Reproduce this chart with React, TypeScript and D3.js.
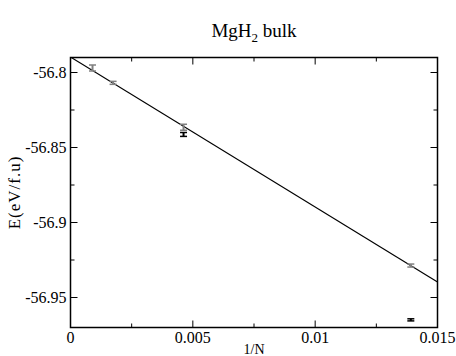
import React, { useEffect, useRef } from 'react';
import * as d3 from 'd3';

// gray series (with error bars)
const grayX = [0.0009, 0.00174, 0.00462, 0.01391];
const grayE = [-56.797, -56.8069, -56.8365, -56.9287];
const grayErr = [0.002, 0.001, 0.002, 0.001];

// black series
const blackX = [0.00462, 0.01391];
const blackE = [-56.8413, -56.9649];
const blackErr = [0.0013, 0.0007];

// linear fit E = a + b * (1/N)
const fitX = [0, 0.015];
const fitA = -56.7897;
const fitB = -10.0;

const xTicks = [0, 0.005, 0.01, 0.015];
const xTickLabels = ['0', '0.005', '0.01', '0.015'];
const xMinor = [0.0025, 0.0075, 0.0125];
const yTicks = [-56.8, -56.85, -56.9, -56.95];
const yTickLabels = ['-56.8', '-56.85', '-56.9', '-56.95'];
const yMinor = [-56.825, -56.875, -56.925];

const App = () => {
  const ref = useRef(null);

  useEffect(() => {
    d3.select(ref.current).selectAll('*').remove();
    const width = 456, height = 356;
    const margin = { top: 57.5, right: 18.5, bottom: 28.5, left: 70.5 };
    const innerW = width - margin.left - margin.right;
    const innerH = height - margin.top - margin.bottom;
    const font = 'Liberation Serif, Times New Roman, serif';

    const svg = d3.select(ref.current)
      .append('svg')
      .attr('width', width)
      .attr('height', height)
      .attr('font-family', font)
      .style('display', 'block')
      .style('background', '#fff');

    const g = svg.append('g').attr('transform', `translate(${margin.left},${margin.top})`);

    const x = d3.scaleLinear().domain([0, 0.015]).range([0, innerW]);
    const y = d3.scaleLinear().domain([-56.97, -56.79]).range([innerH, 0]);

    const clip = svg.append('clipPath').attr('id', 'plotclip');
    clip.append('rect').attr('width', innerW).attr('height', innerH);

    // fit line
    const line = d3.line<number>().x(d => x(d)).y(d => y(fitA + fitB * d));
    g.append('path')
      .attr('clip-path', 'url(#plotclip)')
      .attr('d', line(fitX))
      .attr('fill', 'none')
      .attr('stroke', '#000')
      .attr('stroke-width', 1.2);

    const drawErr = (xs, es, errs, color) => {
      xs.forEach((xv, i) => {
        const cx = x(xv);
        const y0 = y(es[i] - errs[i]);
        const y1 = y(es[i] + errs[i]);
        const eg = g.append('g').attr('stroke', color).attr('stroke-width', 2);
        eg.append('line').attr('x1', cx).attr('x2', cx).attr('y1', y0).attr('y2', y1);
        eg.append('line').attr('x1', cx - 3.5).attr('x2', cx + 3.5).attr('y1', y0).attr('y2', y0).attr('stroke-width', 1.5);
        eg.append('line').attr('x1', cx - 3.5).attr('x2', cx + 3.5).attr('y1', y1).attr('y2', y1).attr('stroke-width', 1.5);
      });
    };
    drawErr(grayX, grayE, grayErr, '#808080');
    drawErr(blackX, blackE, blackErr, '#000');

    // frame
    g.append('rect')
      .attr('width', innerW)
      .attr('height', innerH)
      .attr('fill', 'none')
      .attr('stroke', '#000')
      .attr('stroke-width', 1.5);

    // ticks, inward on all sides
    const ticks = g.append('g').attr('stroke', '#000').attr('stroke-width', 1);
    const major = 7, minor = 4;
    xTicks.forEach(t => {
      ticks.append('line').attr('x1', x(t)).attr('x2', x(t)).attr('y1', innerH).attr('y2', innerH - major);
      ticks.append('line').attr('x1', x(t)).attr('x2', x(t)).attr('y1', 0).attr('y2', major);
    });
    xMinor.forEach(t => {
      ticks.append('line').attr('x1', x(t)).attr('x2', x(t)).attr('y1', innerH).attr('y2', innerH - minor);
      ticks.append('line').attr('x1', x(t)).attr('x2', x(t)).attr('y1', 0).attr('y2', minor);
    });
    yTicks.forEach(t => {
      ticks.append('line').attr('x1', 0).attr('x2', major).attr('y1', y(t)).attr('y2', y(t));
      ticks.append('line').attr('x1', innerW).attr('x2', innerW - major).attr('y1', y(t)).attr('y2', y(t));
    });
    yMinor.forEach(t => {
      ticks.append('line').attr('x1', 0).attr('x2', minor).attr('y1', y(t)).attr('y2', y(t));
      ticks.append('line').attr('x1', innerW).attr('x2', innerW - minor).attr('y1', y(t)).attr('y2', y(t));
    });

    // tick labels
    xTicks.forEach((t, i) => {
      g.append('text')
        .attr('x', x(t))
        .attr('y', innerH + 15)
        .attr('text-anchor', 'middle')
        .attr('font-size', 16)
        .text(xTickLabels[i]);
    });
    yTicks.forEach((t, i) => {
      g.append('text')
        .attr('x', -4)
        .attr('y', y(t))
        .attr('dy', '0.33em')
        .attr('text-anchor', 'end')
        .attr('font-size', 16)
        .text(yTickLabels[i]);
    });

    // axis titles
    svg.append('text')
      .attr('x', margin.left + innerW / 2)
      .attr('y', 354)
      .attr('text-anchor', 'middle')
      .attr('font-size', 14)
      .text('1/N');

    svg.append('text')
      .attr('transform', `translate(20,${margin.top + innerH / 2}) rotate(-90)`)
      .attr('text-anchor', 'middle')
      .attr('font-size', 17)
      .attr('letter-spacing', 1)
      .text('E(eV/f.u)');

    // title with subscript
    const title = svg.append('text')
      .attr('x', margin.left + innerW / 2)
      .attr('y', 37)
      .attr('text-anchor', 'middle')
      .attr('font-size', 19);
    title.append('tspan').text('MgH');
    title.append('tspan').attr('dy', 5).attr('font-size', 13).text('2');
    title.append('tspan').attr('dy', -5).text(' bulk');
  }, []);

  return <div ref={ref} style={{ position: 'absolute', left: 0, top: 0 }}></div>;
};

export default App;
